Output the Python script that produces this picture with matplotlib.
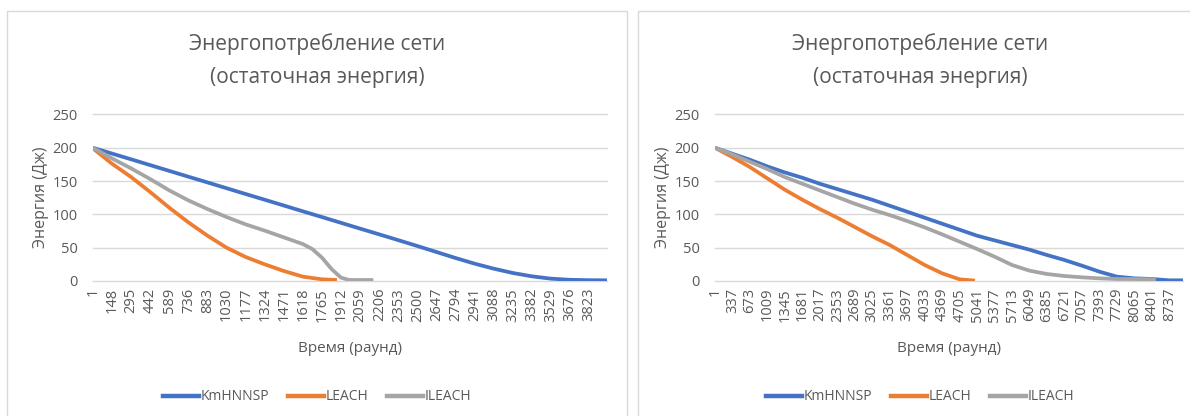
import matplotlib
matplotlib.use("Agg")
import matplotlib.pyplot as plt
from matplotlib.patches import Rectangle
from matplotlib.lines import Line2D

plt.rcParams['font.family'] = ['Open Sans', 'DejaVu Sans']

W, H = 1190, 416
TEXT = '#595959'
GRID = '#D9D9D9'
C_KM, C_LEACH, C_ILEACH = '#4472C4', '#ED7D31', '#A5A5A5'

title_1 = 'Энергопотребление сети'
title_2 = '(остаточная энергия)'
x_title = 'Время (раунд)'
y_title = 'Энергия (Дж)'
series_names = ['KmHNNSP', 'LEACH', 'ILEACH']

# ---- left chart ----
left_ticks = list(range(1, 3824, 147))
left_end = 3960
km_left_r = [1, 148, 295, 442, 589, 736, 883, 1030, 1177, 1324, 1471, 1618, 1765,
             1912, 2059, 2206, 2353, 2500, 2647, 2794, 2941, 3088, 3235, 3382,
             3529, 3676, 3823, 3960]
km_left_e = [200, 191.3, 182.7, 174, 165.3, 156.6, 148, 139.3, 130.6, 122, 113.3,
             104.6, 96, 87.3, 78.6, 70, 61.3, 52.5, 43.5, 34.5, 26, 18.5, 12, 7,
             3.5, 1.8, 1.2, 1.0]
leach_left_r = [1, 148, 295, 442, 589, 736, 883, 1030, 1177, 1324, 1471, 1618,
                1765, 1880]
leach_left_e = [199, 176, 156, 133.5, 110, 88, 68, 50, 36, 25, 15, 6.5, 2.5, 1.5]
ileach_left_r = [1, 148, 295, 442, 589, 736, 883, 1030, 1177, 1324, 1471, 1618,
                 1690, 1765, 1840, 1912, 1975, 2059, 2160]
ileach_left_e = [200, 184, 169, 153, 136, 121, 108, 96, 85, 75.6, 65.5, 55.4,
                 48, 35, 17.6, 5, 1.5, 1.5, 1.5]

# ---- right chart ----
right_ticks = list(range(1, 8738, 336))
right_end = 9000
km_right_r = [1, 337, 673, 1009, 1345, 1681, 2017, 2353, 2689, 3025, 3361, 3697,
              4033, 4369, 4705, 5041, 5377, 5713, 6049, 6385, 6721, 7057, 7393,
              7729, 8065, 8401, 8737, 9000]
km_right_e = [200, 191, 182, 172, 163, 155, 146, 138, 130, 122, 113, 104, 95, 86,
              77, 68, 61, 54, 47, 39, 31.5, 23, 14, 6.5, 4, 3, 1, 1]
leach_right_r = [1, 337, 673, 1009, 1345, 1681, 2017, 2353, 2689, 3025, 3361,
                 3697, 4033, 4369, 4705, 5000]
leach_right_e = [200, 186, 171, 154, 137, 122, 108, 95, 81, 67, 54, 39, 24, 11.5,
                 2.5, 0.5]
ileach_right_r = [1, 337, 673, 1009, 1345, 1681, 2017, 2353, 2689, 3025, 3361,
                  3697, 4033, 4369, 4705, 5041, 5377, 5713, 6049, 6385, 6721,
                  7057, 7393, 7729, 8065, 8401, 8480]
ileach_right_e = [200, 190, 179, 168, 156, 146, 136, 126, 116, 107, 99, 90, 80.5,
                  70, 59, 48, 36.5, 24, 15.5, 10.5, 7.5, 5.5, 4, 3, 3, 2.5, 2.5]

y_ticks = [0, 50, 100, 150, 200, 250]

fig = plt.figure(figsize=(W / 100, H / 100), dpi=100)
fig.patch.set_facecolor('white')


def fx(px):
    return px / W


def fy(py):
    return 1 - py / H


def panel(box, plot_x, xticks, xend, data, center_x):
    bx0, bx1 = box
    fig.patches.append(Rectangle((fx(bx0), fy(430)), fx(bx1 - bx0), (430 - 11) / H,
                                 transform=fig.transFigure, fill=False,
                                 edgecolor=GRID, linewidth=1.0, zorder=0))
    x0, x1 = plot_x
    ax = fig.add_axes([fx(x0), fy(281), fx(x1 - x0), (281 - 114.5) / H])
    for r, e, c in data:
        ax.plot(r, e, color=c, linewidth=2.7, solid_capstyle='butt',
                solid_joinstyle='round', zorder=3)
    ax.set_xlim(1, xend)
    ax.set_ylim(0, 250)
    ax.set_yticks(y_ticks)
    ax.set_xticks(xticks)
    ax.set_xticklabels([str(t) for t in xticks], rotation=90, fontsize=10.5,
                       color=TEXT)
    ax.set_yticklabels([str(t) for t in y_ticks], fontsize=10.5, color=TEXT)
    ax.tick_params(axis='both', length=0)
    ax.tick_params(axis='x', pad=5)
    ax.tick_params(axis='y', pad=11)
    for s in ax.spines.values():
        s.set_visible(False)
    ax.grid(axis='y', color=GRID, linewidth=1.0, zorder=0)
    ax.set_axisbelow(True)
    for gl in ax.get_ygridlines():
        gl.set_clip_on(False)
    ax.set_facecolor('none')

    fig.text(fx(center_x), fy(44), title_1, ha='center', va='center',
             fontsize=15, color=TEXT)
    fig.text(fx(center_x), fy(78), title_2, ha='center', va='center',
             fontsize=15, color=TEXT)
    fig.text(fx((x0 + x1) / 2), fy(348), x_title, ha='center', va='center',
             fontsize=11, color=TEXT)
    fig.text(fx(x0 - 52), fy(197), y_title, ha='center', va='center',
             rotation=90, fontsize=11.5, color=TEXT)
    handles = [Line2D([], [], color=c, linewidth=3.2) for _, _, c in data]
    fig.legend(handles, series_names, loc='center', ncol=3,
               bbox_to_anchor=(fx(center_x), fy(397)), frameon=False,
               fontsize=10, labelcolor=TEXT, handlelength=2.6,
               handletextpad=0.15, columnspacing=1.3)
    return ax


panel((7, 627), (93, 607), left_ticks, left_end,
      [(km_left_r, km_left_e, C_KM),
       (leach_left_r, leach_left_e, C_LEACH),
       (ileach_left_r, ileach_left_e, C_ILEACH)], 317)

panel((638, 1202), (715, 1183), right_ticks, right_end,
      [(km_right_r, km_right_e, C_KM),
       (leach_right_r, leach_right_e, C_LEACH),
       (ileach_right_r, ileach_right_e, C_ILEACH)], 920)

fig.savefig('out.png', dpi=100, facecolor='white')
